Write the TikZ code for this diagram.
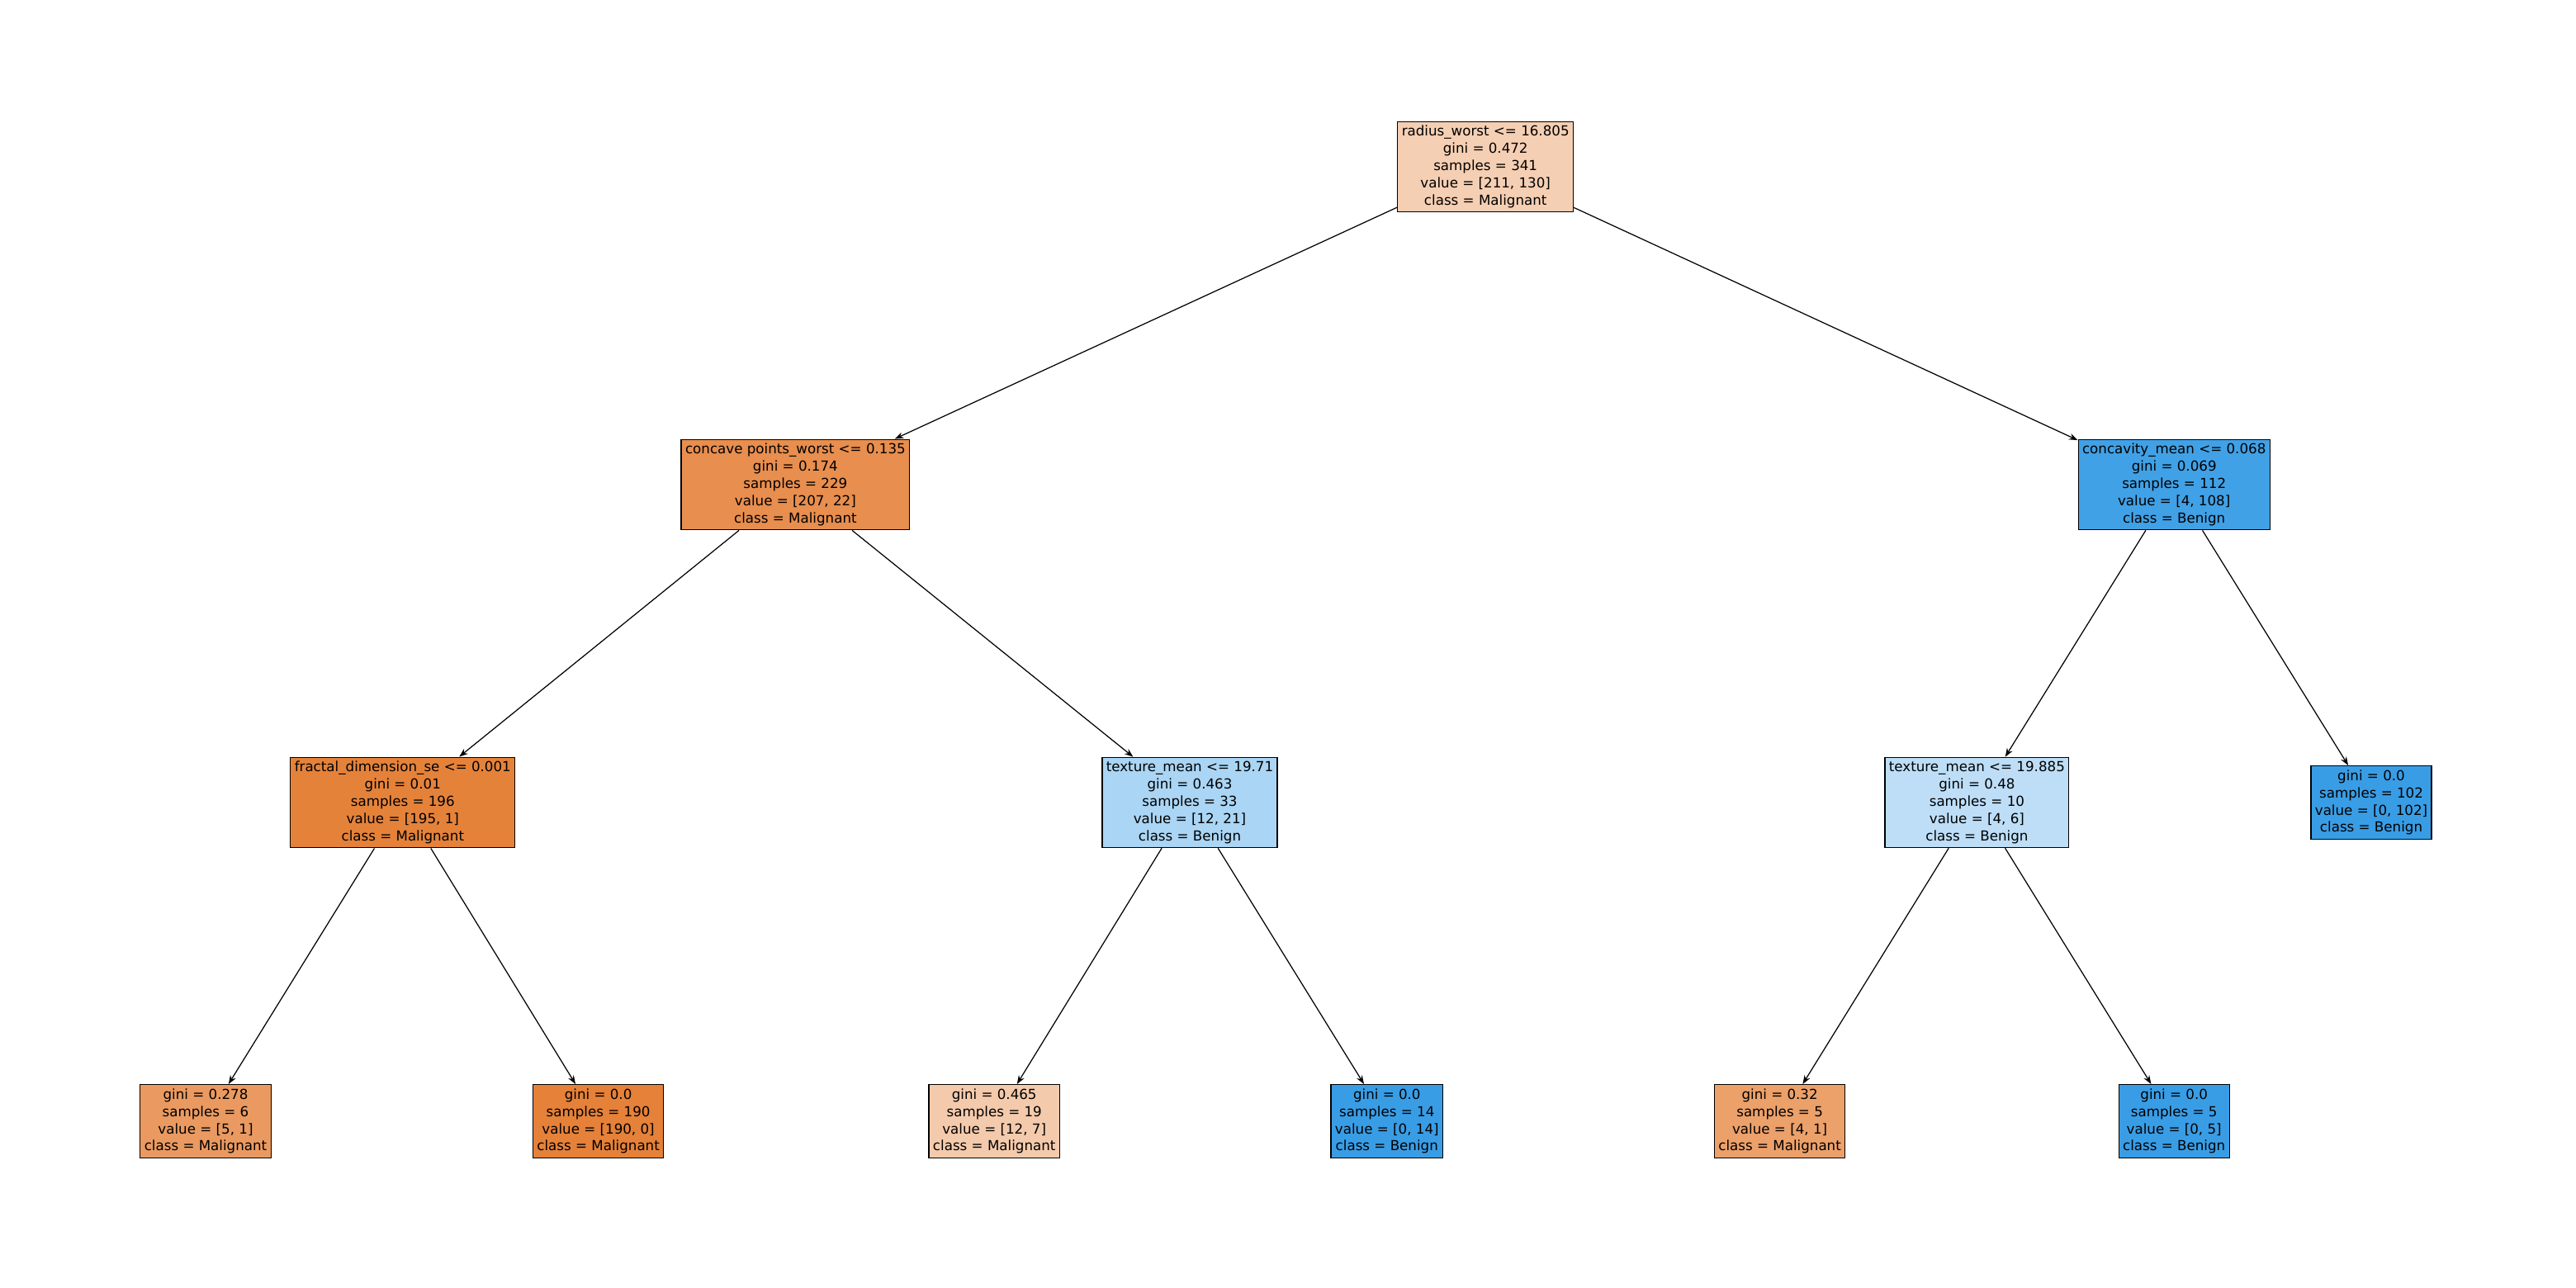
\documentclass[tikz,border=0pt]{standalone}
\usepackage{fontspec}
\setmainfont{DejaVu Sans}
\usetikzlibrary{arrows.meta}
\begin{document}
\begin{tikzpicture}[x=0.02cm,y=-0.02cm,
  nd/.style={draw=black,line width=0.35pt,align=center,inner sep=1.4pt,font=\fontsize{4.75}{5.95}\selectfont},
  ed/.style={line width=0.35pt,-{Stealth[length=3pt,width=2.2pt]}}]
\useasboundingbox (0,0) rectangle (1560,780);
\definecolor{c0}{HTML}{F5CFB3}\definecolor{c1}{HTML}{E88E4E}\definecolor{c2}{HTML}{E5823A}
\definecolor{c3}{HTML}{AAD5F4}\definecolor{c4}{HTML}{41A1E6}\definecolor{c5}{HTML}{BDDEF6}
\definecolor{cb}{HTML}{399DE5}\definecolor{cm}{HTML}{E58139}\definecolor{c6}{HTML}{EA9A61}
\definecolor{c7}{HTML}{F4CAAC}\definecolor{c8}{HTML}{ECA06A}
\node[nd,fill=c0] (r) at (899.6,101) {radius\_worst <= 16.805\\gini = 0.472\\samples = 341\\value = [211, 130]\\class = Malignant};
\node[nd,fill=c1] (a) at (481.7,293.5) {concave points\_worst <= 0.135\\gini = 0.174\\samples = 229\\value = [207, 22]\\class = Malignant};
\node[nd,fill=c4] (b) at (1316.6,293.5) {concavity\_mean <= 0.068\\gini = 0.069\\samples = 112\\value = [4, 108]\\class = Benign};
\node[nd,fill=c2] (aa) at (243.9,486) {fractal\_dimension\_se <= 0.001\\gini = 0.01\\samples = 196\\value = [195, 1]\\class = Malignant};
\node[nd,fill=c3] (ab) at (720.5,486) {texture\_mean <= 19.71\\gini = 0.463\\samples = 33\\value = [12, 21]\\class = Benign};
\node[nd,fill=c5] (ba) at (1197.2,486) {texture\_mean <= 19.885\\gini = 0.48\\samples = 10\\value = [4, 6]\\class = Benign};
\node[nd,fill=cb] (bb) at (1436,486) {gini = 0.0\\samples = 102\\value = [0, 102]\\class = Benign};
\node[nd,fill=c6] (l1) at (124.5,679) {gini = 0.278\\samples = 6\\value = [5, 1]\\class = Malignant};
\node[nd,fill=cm] (l2) at (362.3,679) {gini = 0.0\\samples = 190\\value = [190, 0]\\class = Malignant};
\node[nd,fill=c7] (l3) at (602.1,679) {gini = 0.465\\samples = 19\\value = [12, 7]\\class = Malignant};
\node[nd,fill=cb] (l4) at (839.9,679) {gini = 0.0\\samples = 14\\value = [0, 14]\\class = Benign};
\node[nd,fill=c8] (l5) at (1077.8,679) {gini = 0.32\\samples = 5\\value = [4, 1]\\class = Malignant};
\node[nd,fill=cb] (l6) at (1316.6,679) {gini = 0.0\\samples = 5\\value = [0, 5]\\class = Benign};
\draw[ed] (r) -- (a); \draw[ed] (r) -- (b);
\draw[ed] (a) -- (aa); \draw[ed] (a) -- (ab);
\draw[ed] (b) -- (ba); \draw[ed] (b) -- (bb);
\draw[ed] (aa) -- (l1); \draw[ed] (aa) -- (l2);
\draw[ed] (ab) -- (l3); \draw[ed] (ab) -- (l4);
\draw[ed] (ba) -- (l5); \draw[ed] (ba) -- (l6);
\end{tikzpicture}
\end{document}
